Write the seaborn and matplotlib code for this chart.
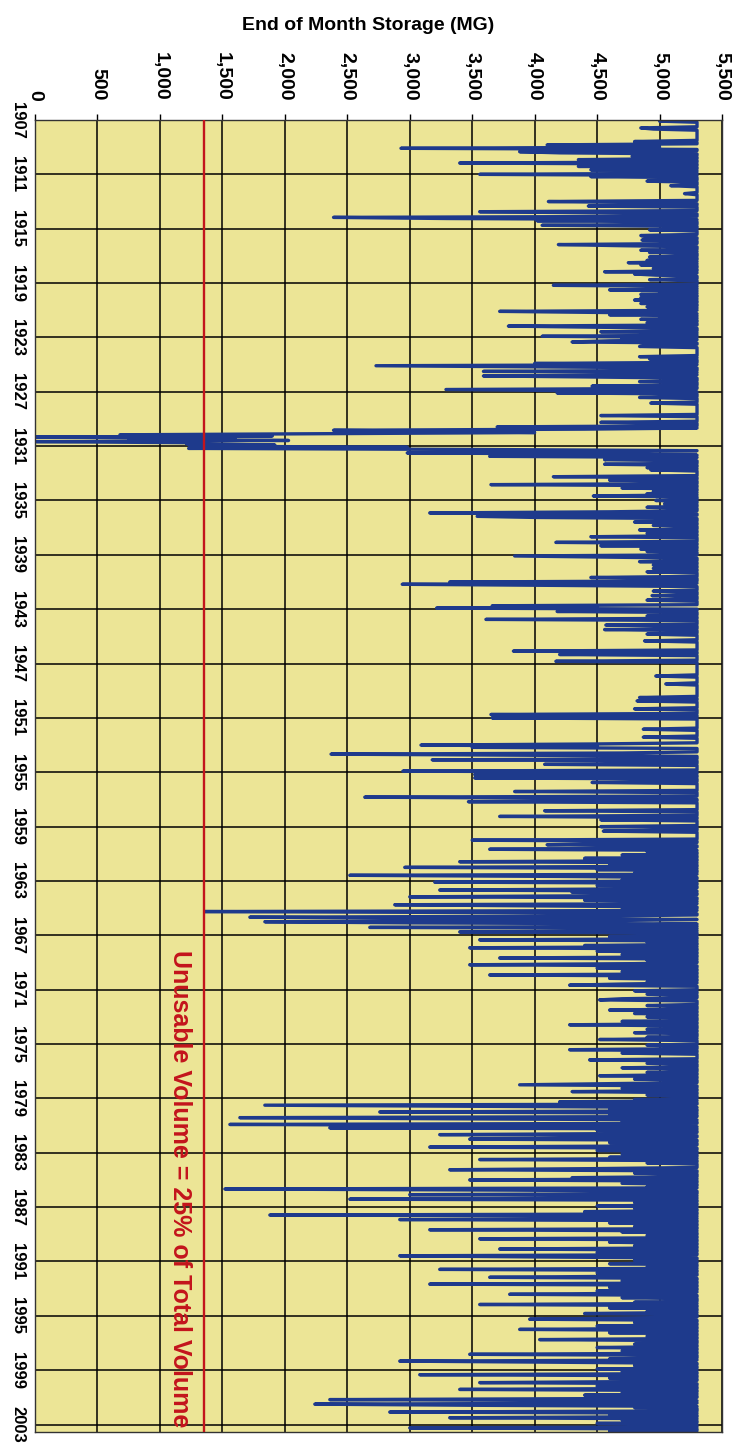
"""
End of month reservoir storage, 1907-2003 (scanned chart, turned on its side).
Storage runs across the top, years run down the left edge.
"""

import numpy as np
import pandas as pd
import matplotlib
matplotlib.use('Agg')
import matplotlib.pyplot as plt
import seaborn as sns

# ===========================
# DATA (end of month storage, MG, one row per year, Jan..Dec)
# ===========================
mg_1907_1916 = [
    [5300, 5000, 5300, 5300, 5300, 5300, 5300, 4850, 4950, 5300, 5300, 5300],
    [5300, 5300, 5300, 5300, 5300, 5300, 5300, 4800, 5300, 5300, 4100, 4700],
    [5000, 2930, 5300, 5300, 3880, 4200, 5300, 5300, 4780, 5300, 5300, 4350],
    [5300, 5300, 3400, 5300, 5300, 4350, 5300, 5300, 4450, 5300, 4800, 5300],
    [3560, 5300, 4450, 5300, 5300, 5300, 4900, 5300, 5300, 5300, 5090, 5300],
    [5300, 5300, 5300, 5300, 5300, 5200, 5300, 5300, 5300, 5300, 5300, 5300],
    [4110, 4900, 5300, 5300, 4430, 5300, 5300, 5300, 5300, 3560, 4500, 5300],
    [5300, 5300, 2390, 3300, 5300, 4020, 5300, 5300, 5300, 4060, 5300, 5300],
    [5300, 4920, 5300, 5300, 5300, 5300, 4850, 4890, 5300, 5300, 4860, 5300],
    [5300, 5300, 4190, 4700, 5300, 5300, 5300, 4850, 5300, 4920, 5300, 5300],
]
mg_1917_1926 = [
    [5300, 4920, 5300, 5300, 4900, 5300, 4750, 5300, 4850, 5300, 5300, 4950],
    [5300, 5300, 4560, 5300, 4800, 4970, 5300, 5300, 5300, 4920, 5300, 5300],
    [5300, 5300, 4150, 5300, 4900, 5300, 4600, 5300, 5000, 5300, 4850, 5300],
    [5300, 4850, 5300, 4800, 5300, 5300, 4850, 5300, 5300, 4900, 5300, 4950],
    [5300, 3720, 4560, 5300, 4600, 5300, 5000, 5300, 4850, 5300, 5300, 4900],
    [5300, 5300, 3790, 4500, 5300, 5300, 5300, 4530, 5300, 4850, 5300, 4060],
    [5300, 4700, 5300, 4600, 4300, 5300, 5300, 4900, 4840, 5300, 5300, 5300],
    [5300, 5300, 5300, 5300, 5300, 4840, 5300, 4920, 5300, 5300, 5300, 4000],
    [5300, 2730, 4000, 5300, 5300, 5300, 3590, 5300, 4800, 5300, 3590, 4500],
    [5300, 5300, 5300, 4840, 5300, 5300, 5300, 4460, 5300, 5300, 3290, 4300],
]
mg_1927_1936 = [
    [5300, 4180, 5300, 5300, 5300, 4840, 5300, 5300, 5300, 5300, 4930, 5300],
    [5300, 5300, 5300, 5300, 5300, 5300, 5300, 5300, 5300, 4530, 5300, 5300],
    [5300, 5300, 5300, 4530, 5300, 5300, 5300, 3700, 5300, 4400, 2390, 3300],
    [4000, 2390, 680, 1900, 10, 1600, 750, 2030, 10, 1250, 1215, 1920],
    [1240, 2980, 1230, 3640, 5300, 4500, 2980, 4560, 5300, 3640, 5300, 4600],
    [4560, 5300, 5300, 5300, 4560, 5300, 5300, 4900, 5300, 4930, 5300, 5300],
    [5300, 5300, 5300, 4150, 5300, 5300, 4600, 5300, 5300, 5300, 3650, 5300],
    [5300, 4700, 5300, 5300, 4950, 5300, 4900, 5300, 4470, 5300, 5300, 5300],
    [4970, 5300, 5300, 5040, 5300, 5300, 4900, 5300, 5300, 5300, 4600, 3160],
    [5300, 5300, 3540, 4020, 5300, 5300, 5300, 4800, 5300, 5300, 4950, 5300],
]
mg_1937_1946 = [
    [5300, 5300, 4840, 5300, 5300, 4900, 5300, 5300, 4450, 5300, 5300, 5300],
    [5300, 4170, 5300, 5300, 4530, 5300, 5300, 4850, 5300, 4900, 5300, 5300],
    [5300, 3840, 4600, 5300, 5300, 5300, 4840, 5300, 5300, 4950, 5300, 5300],
    [4950, 5300, 5300, 4900, 5300, 5300, 5300, 5300, 4450, 5300, 5300, 5300],
    [3320, 5300, 2940, 4200, 5300, 5300, 5300, 5300, 4950, 5300, 5300, 5300],
    [4940, 5300, 5300, 5300, 4900, 5300, 5300, 5300, 5300, 3660, 4500, 3215],
    [5300, 5300, 4180, 5300, 5300, 5300, 4900, 5300, 5300, 3610, 5300, 5300],
    [5300, 5300, 4570, 5300, 5300, 5300, 4560, 5300, 5300, 5300, 4900, 5300],
    [5300, 5300, 5300, 5300, 4880, 5300, 5300, 5300, 5300, 5300, 5300, 5300],
    [5300, 3830, 5300, 5300, 4200, 5300, 5300, 5300, 5300, 5300, 4170, 5300],
]
mg_1947_1956 = [
    [5300, 5300, 5300, 5300, 5300, 5300, 5300, 5300, 5300, 5300, 5300, 4970],
    [5300, 5300, 5300, 5300, 5300, 5300, 5050, 5300, 5300, 5300, 5300, 5300],
    [5300, 5300, 5300, 5300, 5300, 5300, 4840, 5300, 5300, 4820, 5300, 5300],
    [5300, 5300, 5300, 5300, 4800, 5300, 5300, 5300, 5300, 3650, 5300, 5300],
    [3660, 5300, 5300, 5300, 5300, 5300, 5300, 5300, 5300, 5300, 4870, 5300],
    [5300, 5300, 5300, 5300, 5300, 4870, 5300, 5300, 5300, 5300, 5300, 4500],
    [3090, 4500, 3500, 5300, 5300, 5300, 5300, 4700, 2370, 4000, 5300, 5300],
    [5300, 3180, 5300, 5300, 5300, 4080, 5300, 5300, 5300, 5300, 5300, 2945],
    [5300, 5300, 3520, 5300, 5300, 3520, 5300, 5300, 5300, 4460, 5300, 5300],
    [5300, 5300, 5300, 5300, 5300, 3840, 5300, 5300, 5300, 5300, 2640, 4400],
]
mg_1957_1966 = [
    [5300, 5300, 3470, 5300, 5300, 5300, 5300, 5300, 5300, 5300, 4080, 5300],
    [5300, 5300, 5300, 3720, 5300, 5300, 4530, 5300, 5300, 5300, 5300, 5300],
    [4530, 5300, 5300, 5300, 4550, 5300, 5300, 5300, 5300, 5300, 5300, 5300],
    [3500, 5300, 5300, 4600, 4100, 5300, 5300, 4800, 3640, 5300, 4900, 5300],
    [5300, 4700, 5300, 5300, 4400, 5300, 5300, 3400, 5300, 4600, 5300, 5300],
    [2960, 5300, 4500, 5300, 5300, 4800, 5300, 2520, 4200, 5300, 5300, 4700],
    [5300, 3200, 5300, 5300, 4500, 5300, 5300, 4800, 3240, 5300, 4300, 5300],
    [5300, 4600, 3000, 5300, 5300, 4400, 5300, 4900, 5300, 2880, 4000, 5300],
    [5300, 4700, 5300, 1360, 3800, 5300, 5300, 4500, 1720, 3200, 5300, 4600],
    [1840, 3000, 5300, 4700, 5300, 2680, 5300, 4800, 5300, 3400, 5300, 5300],
]
mg_1967_1976 = [
    [5300, 4600, 5300, 5300, 3560, 5300, 4900, 5300, 5300, 4400, 5300, 3480],
    [5300, 5300, 4500, 5300, 5300, 4700, 5300, 5300, 3720, 5300, 4900, 5300],
    [5300, 4800, 3480, 5300, 5300, 4500, 5300, 5300, 4700, 5300, 5300, 3640],
    [5300, 5300, 4600, 5300, 5300, 4900, 5300, 4700, 4280, 5300, 5300, 5300],
    [5300, 4800, 5300, 5300, 4900, 5300, 5300, 5300, 4700, 4520, 5300, 5300],
    [5300, 5300, 4900, 5300, 5300, 5300, 4600, 5300, 5300, 4800, 5300, 5300],
    [4900, 5300, 5300, 5300, 4700, 5300, 5300, 4280, 5300, 5300, 5300, 4900],
    [5300, 5300, 4800, 5300, 5300, 5300, 4900, 5300, 4520, 5300, 5300, 5300],
    [5300, 4900, 5300, 5300, 5300, 4280, 5300, 5300, 4700, 5300, 5300, 5300],
    [5300, 5300, 4440, 5300, 5300, 4900, 5300, 5300, 5300, 4700, 5300, 5300],
]
mg_1977_1986 = [
    [5300, 4900, 5300, 5300, 4520, 5300, 5300, 4800, 5300, 5300, 5300, 4600],
    [3880, 5300, 5300, 4700, 5300, 5300, 4300, 5300, 5300, 4900, 5300, 5300],
    [5300, 4800, 5300, 4200, 5300, 5300, 1840, 3600, 5300, 4600, 5300, 5300],
    [2760, 5300, 4600, 5300, 5300, 1640, 3300, 5300, 4700, 5300, 5300, 1560],
    [4000, 5300, 2360, 5300, 4500, 5300, 5300, 4800, 3240, 5300, 5300, 4700],
    [3480, 5300, 5300, 4600, 5300, 5300, 4900, 3160, 5300, 5300, 4500, 5300],
    [5300, 4700, 5300, 5300, 4600, 5300, 3560, 5300, 5300, 4900, 5300, 5300],
    [5300, 5300, 4500, 3320, 5300, 5300, 4800, 5300, 5300, 5300, 4300, 5300],
    [3480, 5300, 5300, 4700, 5300, 5300, 4900, 5300, 1520, 3800, 5300, 5300],
    [5300, 3000, 5300, 4600, 5300, 2520, 5300, 5300, 4800, 5300, 5300, 4500],
]
mg_1987_1996 = [
    [5300, 4800, 5300, 5300, 4400, 5300, 5300, 1880, 5300, 4600, 5300, 2920],
    [5300, 5300, 4600, 5300, 5300, 4800, 5300, 5300, 3160, 5300, 4700, 5300],
    [5300, 4900, 5300, 5300, 3560, 5300, 5300, 4600, 5300, 5300, 4800, 5300],
    [5300, 3720, 5300, 5300, 4500, 5300, 5300, 2920, 4000, 5300, 5300, 4800],
    [5300, 5300, 4600, 5300, 5300, 4900, 5300, 3240, 5300, 5300, 4500, 5300],
    [5300, 4800, 3640, 5300, 5300, 4700, 5300, 5300, 3160, 5300, 5300, 4600],
    [5300, 5300, 4500, 5300, 4900, 3800, 5300, 5300, 4700, 5300, 5300, 5300],
    [4800, 5300, 3560, 5300, 5300, 4600, 5300, 5300, 4900, 5300, 4400, 5300],
    [5300, 5300, 4700, 3960, 5300, 5300, 4800, 5300, 5300, 4500, 5300, 5300],
    [3880, 5300, 5300, 4600, 5300, 5300, 4900, 5300, 5300, 4040, 5300, 5300],
]
mg_1997_2003 = [
    [5300, 4800, 5300, 5300, 4500, 5300, 5300, 4700, 5300, 5300, 3480, 5300],
    [5300, 5300, 4600, 5300, 2920, 4200, 5300, 5300, 4800, 5300, 5300, 4500],
    [5300, 4700, 5300, 5300, 3080, 5300, 5300, 4600, 5300, 5300, 4900, 3560],
    [5300, 5300, 4500, 5300, 5300, 3400, 5300, 5300, 4700, 5300, 4400, 5300],
    [5300, 4800, 2360, 5300, 4400, 5300, 2240, 3500, 5300, 4800, 5300, 5300],
    [5300, 2840, 5300, 4600, 5300, 5300, 3320, 5300, 4700, 5300, 5300, 4500],
    [5300, 4800, 5300, 3000, 5300, 5300, 4600, 5300, 5300, 5300, 5300, 5300],
]

FIRST_YEAR = 1907
year_ticks = list(range(1907, 2004, 4))
storage_ticks = [0, 500, 1000, 1500, 2000, 2500, 3000, 3500, 4000, 4500, 5000, 5500]
storage_labels = ['0', '500', '1,000', '1,500', '2,000', '2,500', '3,000',
                  '3,500', '4,000', '4,500', '5,000', '5,500']
UNUSABLE_MG = 1350  # 25% of total volume
unusable_label = 'Unusable Volume = 25% of Total Volume'

BG_YELLOW = '#ece596'
LINE_BLUE = '#1e3a8c'
RED = '#c3141c'

# ===========================
# BUILD SERIES
# ===========================
storage = np.concatenate([np.array(d).ravel() for d in [
    mg_1907_1916, mg_1917_1926, mg_1927_1936, mg_1937_1946, mg_1947_1956,
    mg_1957_1966, mg_1967_1976, mg_1977_1986, mg_1987_1996, mg_1997_2003]])
df = pd.DataFrame({
    'year': FIRST_YEAR + np.arange(len(storage)) / 12.0,
    'storage': storage,
})

# ===========================
# PLOT
# ===========================
sns.set_style('white')
plt.rcParams['font.family'] = ['Liberation Sans Narrow', 'Liberation Sans', 'DejaVu Sans']
plt.rcParams['text.color'] = 'black'
plt.rcParams['xtick.color'] = 'black'
plt.rcParams['ytick.color'] = 'black'

W, H = 736, 1448
fig = plt.figure(figsize=(W / 100, H / 100), dpi=100)
fig.patch.set_facecolor('white')
ax = fig.add_axes([35 / W, 1 - 1432 / H, 687 / W, 1312 / H])
ax.set_facecolor(BG_YELLOW)

sns.lineplot(data=df, x='storage', y='year', sort=False, estimator=None,
             orient='y', color=LINE_BLUE, lw=2.4, ax=ax, legend=False)

ax.axvline(UNUSABLE_MG, color=RED, lw=1.7, zorder=3)
ax.text(UNUSABLE_MG - 90, 2003.2, unusable_label, rotation=-90, color=RED,
        fontsize=18, fontweight='bold', ha='right', va='bottom', zorder=4)

ax.set_xlim(0, 5500)
ax.set_ylim(2003.55, FIRST_YEAR)

ax.xaxis.tick_top()
ax.set_xticks(storage_ticks)
ax.set_xticklabels(storage_labels, rotation=-90, fontsize=14, fontweight='bold')
ax.set_yticks(year_ticks)
ax.set_yticklabels([str(y) for y in year_ticks], rotation=-90, va='center',
                   fontsize=12, fontweight='bold')
ax.tick_params(axis='both', length=4, width=1, color='black', pad=3)
ax.tick_params(axis='x', pad=10)
ax.set_xlabel('')
ax.set_ylabel('')

ax.grid(True, color='black', lw=1.1)
ax.set_axisbelow(True)
for side, spine in ax.spines.items():
    spine.set_color('#333333')
    spine.set_linewidth(1.0)

fig.text(0.5, 1 - 25 / H, 'End of Month Storage (MG)', ha='center', va='center',
         fontsize=14, fontweight='bold')

fig.savefig('out.png', dpi=100)
